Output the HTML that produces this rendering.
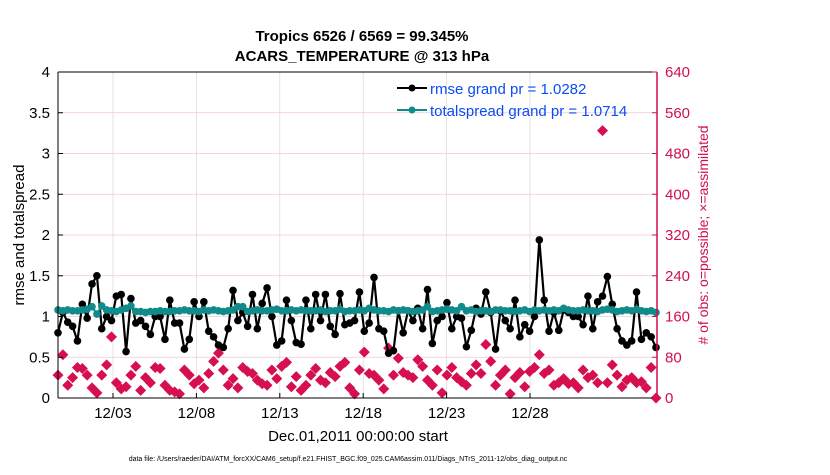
<!DOCTYPE html>
<html><head><meta charset="utf-8"><style>
body{margin:0;background:#fff;}
svg{font-family:"Liberation Sans",Arial,sans-serif;}
</style></head><body>
<svg id="c" width="830" height="470" xmlns="http://www.w3.org/2000/svg">
<text x="362" y="41" font-size="15" font-weight="bold" text-anchor="middle">Tropics 6526 / 6569 = 99.345%</text>
<text x="362" y="61" font-size="15" font-weight="bold" text-anchor="middle">ACARS_TEMPERATURE @ 313 hPa</text>
<g id="grid"></g><g id="marks"></g><g id="axes"></g>
<text x="24" y="235" font-size="15" text-anchor="middle" transform="rotate(-90 24 235)">rmse and totalspread</text>
<text x="708" y="235" font-size="14" fill="#d0104c" text-anchor="middle" transform="rotate(-90 708 235)"># of obs: o=possible; ×=assimilated</text>
<text x="358" y="441" font-size="15" text-anchor="middle">Dec.01,2011 00:00:00 start</text>
<text x="348" y="461" font-size="7" text-anchor="middle">data file: /Users/raeder/DAI/ATM_forcXX/CAM6_setup/f.e21.FHIST_BGC.f09_025.CAM6assim.011/Diags_NTrS_2011-12/obs_diag_output.nc</text>
<g>
<line x1="397" y1="88" x2="427" y2="88" stroke="#000" stroke-width="2"/><circle cx="412" cy="88" r="3.5" fill="#000"/>
<text x="430" y="94" font-size="15" fill="#0a4cf5">rmse grand pr = 1.0282</text>
<line x1="397" y1="110" x2="427" y2="110" stroke="#108a8a" stroke-width="2"/><circle cx="412" cy="110" r="3.5" fill="#108a8a"/>
<text x="430" y="116" font-size="15" fill="#0a4cf5">totalspread grand pr = 1.0714</text>
</g>
</svg>
<script>
const rmse=[0.8,1.05,0.93,0.88,0.7,1.15,0.98,1.4,1.5,0.85,1.0,0.95,1.25,1.27,0.57,1.22,0.92,0.95,0.88,0.78,1.0,1.0,0.72,1.2,0.92,0.92,0.6,0.72,1.18,1.0,1.18,0.82,0.75,0.65,0.62,0.85,1.32,0.95,1.05,0.88,1.27,0.85,1.16,1.35,1.0,0.65,0.7,1.2,0.95,0.68,0.66,1.2,0.85,1.27,0.95,1.27,0.88,0.78,1.28,0.9,0.92,0.95,1.3,0.82,0.92,1.48,0.85,0.82,0.55,0.58,1.07,0.8,1.07,0.95,1.1,0.85,1.33,0.67,0.95,1.0,1.17,0.85,1.0,0.98,0.63,0.83,1.1,1.03,1.3,1.05,0.6,1.07,0.95,0.85,1.2,0.75,0.9,0.82,1.0,1.94,1.2,0.82,1.05,0.83,1.08,1.05,1.0,1.0,0.9,1.25,0.85,1.18,1.25,1.49,1.15,0.85,0.7,0.65,0.7,1.3,0.72,0.8,0.75,0.62];
const spread=[1.08,1.07,1.08,1.07,1.07,1.08,1.09,1.12,1.03,1.13,1.08,1.07,1.06,1.08,1.1,1.13,1.06,1.06,1.05,1.06,1.06,1.07,1.06,1.06,1.07,1.07,1.08,1.07,1.07,1.06,1.08,1.07,1.08,1.07,1.06,1.07,1.08,1.12,1.12,1.06,1.07,1.08,1.07,1.07,1.08,1.09,1.07,1.07,1.08,1.07,1.08,1.07,1.07,1.07,1.08,1.06,1.07,1.07,1.09,1.06,1.07,1.07,1.08,1.07,1.1,1.08,1.07,1.07,1.06,1.08,1.07,1.08,1.07,1.06,1.07,1.08,1.12,1.06,1.07,1.08,1.09,1.08,1.07,1.12,1.07,1.08,1.06,1.07,1.07,1.06,1.08,1.08,1.07,1.07,1.06,1.07,1.08,1.06,1.08,1.07,1.08,1.07,1.08,1.07,1.1,1.08,1.07,1.07,1.08,1.07,1.07,1.06,1.08,1.09,1.08,1.06,1.07,1.08,1.07,1.09,1.07,1.06,1.07,1.05];
const nobs=[45,85,25,40,60,58,45,20,10,45,65,120,30,18,22,45,62,15,40,30,60,58,25,15,12,8,55,45,28,35,20,48,72,88,55,25,38,20,60,52,48,35,28,25,55,38,62,70,22,42,15,25,45,58,35,30,50,42,62,70,20,8,55,90,48,45,35,18,98,45,78,50,45,40,75,62,35,25,55,10,45,60,40,32,25,48,65,48,105,72,25,45,55,8,40,50,22,52,60,85,48,55,25,30,38,28,30,20,55,40,45,30,525,30,65,45,22,35,40,30,32,20,60,0];
const yTicksL=[0,0.5,1,1.5,2,2.5,3,3.5,4];
const yTicksR=[0,80,160,240,320,400,480,560,640];
const xDays=[3,8,13,18,23,28];
const xLabels=["12/03","12/08","12/13","12/18","12/23","12/28"];
const L=58,R=657,T=72,B=398,N=rmse.length;
const xi=i=>L+i*(R-L-1)/(N-1);
const xd=d=>113+(d-3)*16.68;
const yl=v=>B-(v/4)*(B-T);
const yr=v=>B-(v/640)*(B-T);
const NS="http://www.w3.org/2000/svg";
function mk(tag,parent,attrs){const e=document.createElementNS(NS,tag);for(const k in attrs)e.setAttribute(k,attrs[k]);document.getElementById(parent).appendChild(e);return e;}
yTicksL.forEach(v=>{if(v>0&&v<4){const g=mk('line','grid',{x1:L,x2:R,y1:yl(v),y2:yl(v),stroke:'#f0c8d8','stroke-width':0.8});

}});
xDays.forEach(d=>{const g=mk('line','grid',{x1:xd(d),x2:xd(d),y1:T,y2:B,stroke:'#dcdcdc','stroke-width':0.8});

});
nobs.forEach((v,i)=>{const x=xi(i),y=yr(v);
const p=mk('path','marks',{d:`M${x} ${y-5.5}L${x+5.5} ${y}L${x} ${y+5.5}L${x-5.5} ${y}Z`,fill:'#d6104f'});

});
function series(arr,col,name){let d=arr.map((v,i)=>(i?'L':'M')+xi(i).toFixed(1)+' '+yl(v).toFixed(1)).join(' ');
const pth=mk('path','marks',{d:d,fill:'none',stroke:col,'stroke-width':2.2});


arr.forEach((v,i)=>{const c=mk('circle','marks',{cx:xi(i),cy:yl(v),r:3.8,fill:col});

});}
series(rmse,'#000','rmse');
series(spread,'#108a8a','totalspread');
let a=mk('line','axes',{x1:L,x2:L,y1:T,y2:B,stroke:'#000'});


a=mk('line','axes',{x1:L,x2:R,y1:B,y2:B,stroke:'#000'});


a=mk('line','axes',{x1:L,x2:R,y1:T,y2:T,stroke:'#000'});


a=mk('line','axes',{x1:R,x2:R,y1:T,y2:B,stroke:'#d0104c','stroke-width':1.5});


yTicksL.forEach(v=>{mk('line','axes',{x1:L,x2:L+5,y1:yl(v),y2:yl(v),stroke:'#000'});
const t=mk('text','axes',{x:L-8,y:yl(v)+5,'font-size':15,'text-anchor':'end'});t.textContent=String(v);

});
yTicksR.forEach(v=>{mk('line','axes',{x1:R-5,x2:R,y1:yr(v),y2:yr(v),stroke:'#d0104c'});
const t=mk('text','axes',{x:R+8,y:yr(v)+5,'font-size':15,fill:'#d0104c'});t.textContent=String(v);

});
xDays.forEach((d,k)=>{mk('line','axes',{x1:xd(d),x2:xd(d),y1:B-5,y2:B,stroke:'#000'});
const t=mk('text','axes',{x:xd(d),y:B+20,'font-size':15,'text-anchor':'middle'});t.textContent=xLabels[k];

});
</script>
</body></html>
